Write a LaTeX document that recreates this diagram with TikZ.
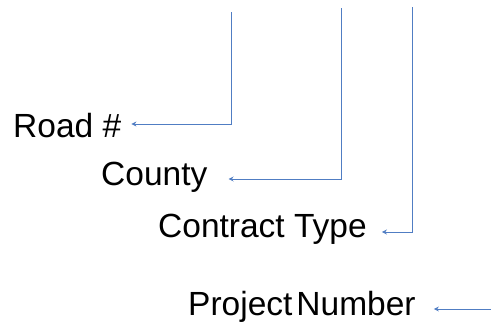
\documentclass[tikz,border=0pt]{standalone}
\usepackage{fontspec}
\setmainfont{Liberation Sans}
\usepackage{tikz}
\usetikzlibrary{arrows.meta}

\definecolor{linkblue}{RGB}{80,125,195}

\tikzset{
  lbl/.style={inner sep=0pt, anchor=base west, font=\fontsize{33.5}{40}\selectfont},
  link/.style={draw=linkblue, line width=0.9pt, -{Stealth[length=5pt,width=5pt]}}
}

\begin{document}
\begin{tikzpicture}[x=1pt,y=-1pt]
              \useasboundingbox (0,0) rectangle (491,324);

              \node[lbl] (road) at (13,137) {Road \#};
              \node[lbl] (county) at (101,185) {County};
              \node[lbl] (ctype) at (158,237) {Contract Type};
              \node[lbl] (projnum) at (188,315) {Project\hspace{0.12em}Number};

              % free ends of the leaders
              \coordinate (roadtop) at (231,12);
              \coordinate (countytop) at (341,8);
              \coordinate (ctypetop) at (412,7);
              \coordinate (projend) at (491,309);

              %leaders
              \draw[link] (roadtop) |- ([xshift=10pt,yshift=13pt]road.base east);
              \draw[link] (countytop) |- ([xshift=21pt,yshift=6pt]county.base east);
              \draw[link] (ctypetop) |- ([xshift=15pt,yshift=5pt]ctype.base east);
              \draw[link] (projend) -- ([xshift=18pt,yshift=6pt]projnum.base east);

            \end{tikzpicture}
\end{document}
